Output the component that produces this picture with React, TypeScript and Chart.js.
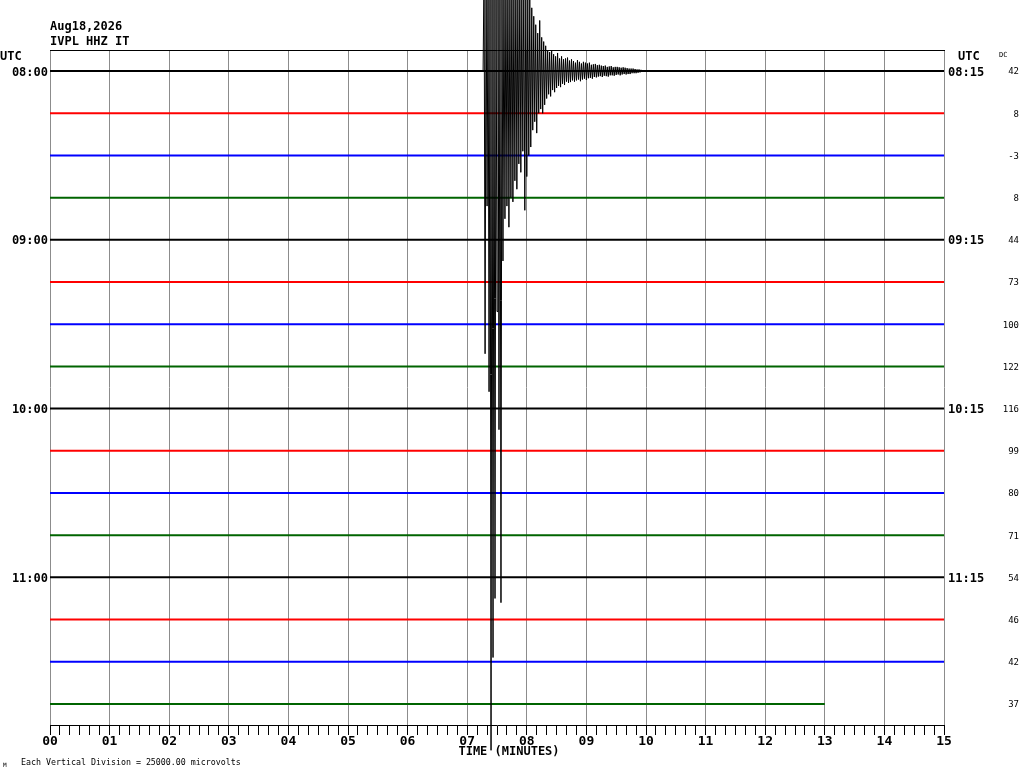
import React, { useEffect, useRef } from 'react';
import { Chart, registerables } from 'chart.js';

Chart.register(...registerables);

// ---- header / labels ----
const stationDate = 'Aug18,2026';
const stationName = 'IVPL HHZ IT';
const scaleNote = 'Each Vertical Division = 25000.00 microvolts';
const axisTitle = 'TIME (MINUTES)';

// rows carrying an hour label, with left (start) and right (end) times
const hourRows = [0, 4, 8, 12];
const leftHourLabels = ['08:00', '09:00', '10:00', '11:00'];
const rightHourLabels = ['08:15', '09:15', '10:15', '11:15'];

// DC offset shown at the right of each row
const dcValues = [42, 8, -3, 8, 44, 73, 100, 122, 116, 99, 80, 71, 54, 46, 42, 37];

// colour cycle of the rows
const colorCycle = ['#000000', '#ff0000', '#0000ff', '#006400'];

// end of each row's trace (seconds into the 15-minute row)
const traceEndSeconds = [900, 900, 900, 900, 900, 900, 900, 900, 900, 900, 900, 900, 900, 900, 900, 780];

// earthquake on row 0: sample every second from 436 s, amplitude in row-spacing units
const quakeRow = 0;
const quakeStartSec = 436;
const quakeStepSec = 1;
const quakeAmps = [
  0, 2.5, -6.7, 2.5, -3.2, 2.5, -7.6, 2.5, -16.1, 2.5,
  -13.9, 2.5, -12.5, 2.5, -5.7, 2.5, -8.5, 2.5, -12.6, 2.5,
  -4.5, 2.5, -3.5, 2.5, -3.2, 2.5, -3.7, 2.2, -3.0, 2.5,
  -3.1, 2.0, -2.6, 2.4, -2.8, 1.9, -2.2, 2.3, -2.4, 1.8,
  -1.9, 2.2, -3.3, 2.0, -2.5, 1.8, -2.0, 1.7, -1.8, 1.5,
  -1.4, 1.3, -1.2, 1.1, -1.47, 0.9, -1.0, 1.2, -0.9, 0.8,
  -1.0, 0.7, -0.8, 0.6, -0.65, 0.5, -0.55, 0.45, -0.6, 0.5,
  -0.45, 0.4, -0.5, 0.35, -0.4, 0.43, -0.35, 0.3, -0.38, 0.35,
  -0.3, 0.28, -0.33, 0.3, -0.25, 0.32, -0.28, 0.25, -0.26, 0.28,
  -0.22, 0.24, -0.25, 0.2, -0.22, 0.26, -0.2, 0.22, -0.24, 0.18,
  -0.2, 0.22, -0.18, 0.2, -0.21, 0.18, -0.17, 0.2, -0.16, 0.15,
  -0.18, 0.16, -0.14, 0.17, -0.15, 0.14, -0.13, 0.15, -0.12, 0.13,
  -0.14, 0.12, -0.11, 0.13, -0.12, 0.1, -0.13, 0.11, -0.1, 0.12,
  -0.1, 0.09, -0.11, 0.1, -0.09, 0.1, -0.08, 0.09, -0.1, 0.08,
  -0.08, 0.09, -0.07, 0.08, -0.08, 0.07, -0.07, 0.06, -0.07, 0.06,
  -0.05, 0.06, -0.05, 0.05, -0.05, 0.04, -0.04, 0.04, -0.03, 0.03,
  0,
];

const ROWS = traceEndSeconds.length;
const rowValue = (i: number) => -(i + 0.5);

const MONO = '"DejaVu Sans Mono", "Liberation Mono", monospace';

const labelsPlugin = {
  id: 'heliLabels',
  afterDraw(chart: any) {
    const { ctx, chartArea } = chart;
    const ys = chart.scales.y;
    ctx.save();
    // top frame line
    ctx.strokeStyle = '#000';
    ctx.lineWidth = 1;
    ctx.beginPath();
    ctx.moveTo(chartArea.left, chartArea.top + 0.5);
    ctx.lineTo(chartArea.right + 1, chartArea.top + 0.5);
    ctx.stroke();

    ctx.fillStyle = '#000';
    ctx.textBaseline = 'middle';
    ctx.font = `bold 12px ${MONO}`;
    ctx.textAlign = 'left';
    ctx.fillText(stationDate, 50, 27);
    ctx.fillText(stationName, 50, 42);
    ctx.fillText('UTC', 0, 57);
    ctx.fillText('UTC', 958, 57);

    hourRows.forEach((r, k) => {
      const y = ys.getPixelForValue(rowValue(r)) + 1.5;
      ctx.textAlign = 'right';
      ctx.fillText(leftHourLabels[k], 48, y);
      ctx.textAlign = 'left';
      ctx.fillText(rightHourLabels[k], 948, y);
    });

    ctx.textAlign = 'center';
    ctx.fillText(axisTitle, 509, 752);

    ctx.font = `7px ${MONO}`;
    ctx.textAlign = 'left';
    ctx.fillText('DC', 999, 55);

    ctx.font = `9px ${MONO}`;
    ctx.textAlign = 'right';
    dcValues.forEach((v, i) => {
      ctx.fillText(String(v), 1019, ys.getPixelForValue(rowValue(i)) + 1);
    });

    ctx.textAlign = 'left';
    ctx.font = `8.3px ${MONO}`;
    ctx.fillText(scaleNote, 21, 763);
    ctx.font = `6px ${MONO}`;
    ctx.fillText('M', 3, 765);
    ctx.restore();
  },
};

export default function App() {
  const canvasRef = useRef<HTMLCanvasElement | null>(null);

  useEffect(() => {
    if (!canvasRef.current) return;

    const datasets: any[] = [];
    // quake dataset first so it is drawn on top
    const qBase = rowValue(quakeRow);
    datasets.push({
      data: quakeAmps.map((a, k) => ({ x: quakeStartSec + k * quakeStepSec, y: qBase + a })),
      borderColor: colorCycle[quakeRow % 4],
      borderWidth: 1,
      pointRadius: 0,
      borderJoinStyle: 'bevel',
      clip: false,
    });
    traceEndSeconds.forEach((end, i) => {
      datasets.push({
        data: [
          { x: 0, y: rowValue(i) },
          { x: end, y: rowValue(i) },
        ],
        borderColor: colorCycle[i % 4],
        borderWidth: 2,
        pointRadius: 0,
      });
    });

    const chart = new Chart(canvasRef.current, {
      type: 'line',
      data: { datasets },
      options: {
        animation: false,
        responsive: false,
        maintainAspectRatio: false,
        events: [],
        layout: { padding: { left: 50, right: 80, top: 50, bottom: 0 } },
        plugins: {
          legend: { display: false },
          tooltip: { enabled: false },
          title: { display: false },
        },
        elements: { line: { tension: 0 }, point: { radius: 0 } },
        scales: {
          x: {
            type: 'linear',
            position: 'bottom',
            min: 0,
            max: 900,
            afterFit: (s: any) => {
              s.height = 43;
            },
            border: { display: true, color: '#000', width: 1 },
            grid: {
              color: (c: any) => (c.tick && c.tick.value % 60 === 0 ? '#8c8c8c' : 'rgba(0,0,0,0)'),
              tickColor: '#000',
              tickLength: 10,
              lineWidth: 1,
              drawTicks: true,
            },
            ticks: {
              stepSize: 10,
              autoSkip: false,
              maxRotation: 0,
              minRotation: 0,
              padding: 0,
              color: '#000',
              font: { family: MONO, weight: 'bold', size: 13, lineHeight: 1 },
              callback: (v: any) => (Number(v) % 60 === 0 ? String(Number(v) / 60).padStart(2, '0') : ''),
            },
          },
          y: {
            type: 'linear',
            min: -ROWS,
            max: 0,
            display: false,
          },
        },
      } as any,
      plugins: [labelsPlugin],
    });

    return () => chart.destroy();
  }, []);

  return (
    <div style={{ position: 'absolute', left: 0, top: 0, width: 1024, height: 768, background: '#fff' }}>
      <canvas ref={canvasRef} width={1024} height={768} style={{ width: 1024, height: 768, display: 'block' }} />
    </div>
  );
}
